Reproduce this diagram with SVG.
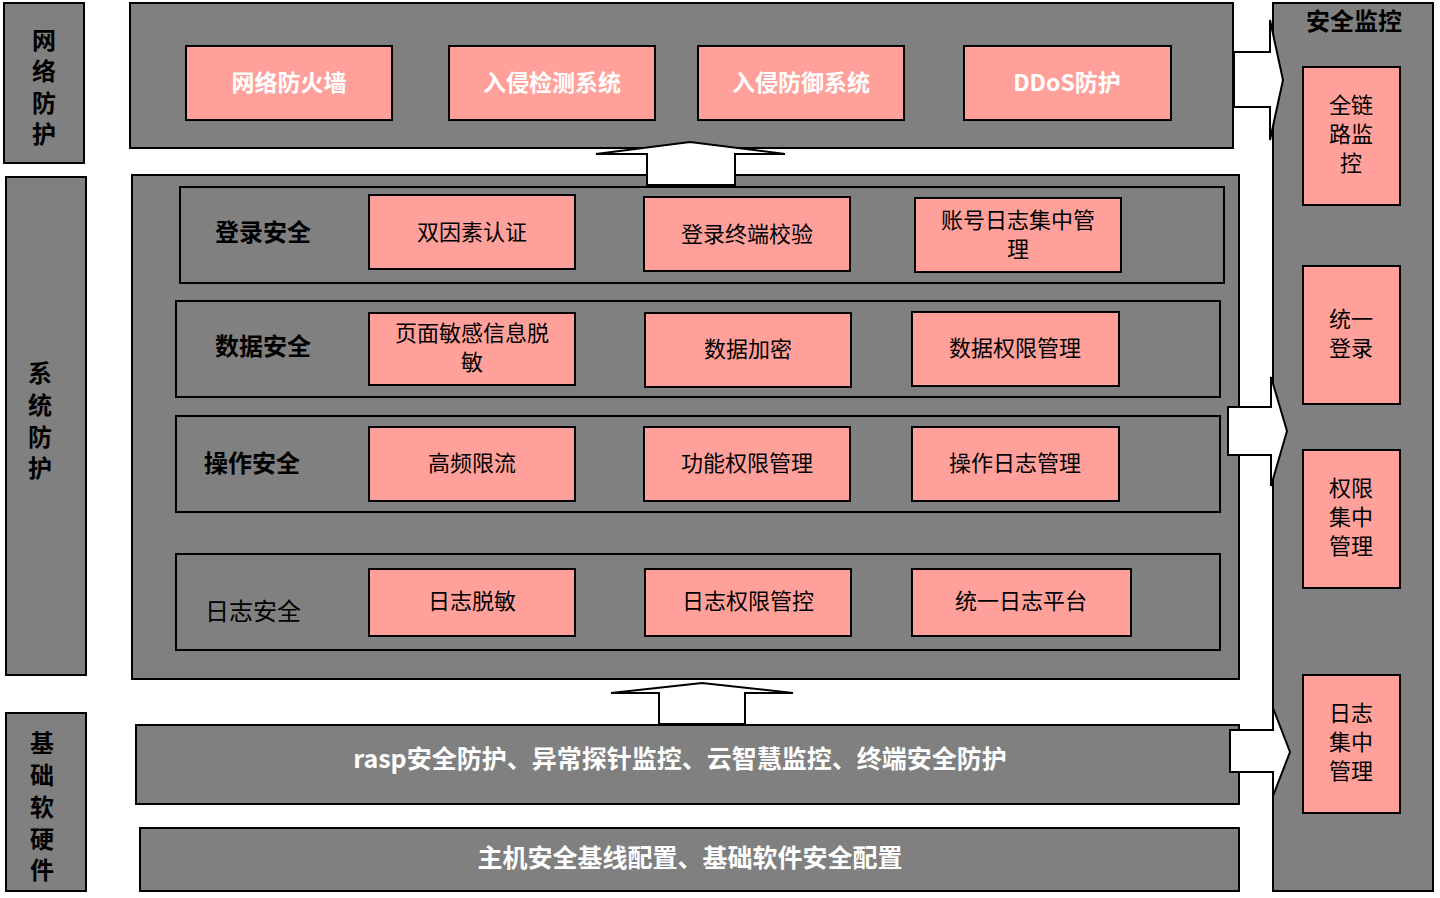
<svg xmlns="http://www.w3.org/2000/svg" width="1440" height="898" viewBox="0 0 1440 898">
<style>
.g{fill:#808080;stroke:#000;stroke-width:2}
.p{fill:#ffa19a;stroke:#000;stroke-width:2}
.a{fill:#fff;stroke:#000;stroke-width:2}
text{font-family:"Noto Sans CJK SC","Liberation Sans",sans-serif;text-anchor:middle;dominant-baseline:central}
.w{fill:#fff;font-weight:bold;font-size:23px}
.b{fill:#000;font-weight:bold;font-size:24px}
.n{fill:#000;font-size:22px}
.big{font-size:25px}
</style>
<rect width="1440" height="898" fill="#fff"/>
<g id="net-label"><rect class="g" x="4" y="3" width="80" height="160"/><text class="b" x="44" y="38">网</text><text class="b" x="44" y="69">络</text><text class="b" x="44" y="101">防</text><text class="b" x="44" y="132">护</text></g>
<g id="net"><rect class="g" x="130" y="3" width="1103" height="145"/>
<rect class="p" x="186" y="46" width="206" height="74"/><text class="w" x="289" y="81">网络防火墙</text>
<rect class="p" x="449" y="46" width="206" height="74"/><text class="w" x="552" y="81">入侵检测系统</text>
<rect class="p" x="698" y="46" width="206" height="74"/><text class="w" x="801" y="81">入侵防御系统</text>
<rect class="p" x="964" y="46" width="207" height="74"/><text class="w" x="1067" y="81">DDoS防护</text></g>
<g id="sys-label"><rect class="g" x="6" y="177" width="80" height="498"/><text class="b" x="40" y="371">系</text><text class="b" x="40" y="403">统</text><text class="b" x="40" y="435">防</text><text class="b" x="40" y="466">护</text></g>
<g id="sys"><rect class="g" x="132" y="175" width="1107" height="504"/>
<rect class="g" x="180" y="187" width="1044" height="96"/><text class="b" x="263" y="230">登录安全</text>
<rect class="p" x="369" y="195" width="206" height="74"/><text class="n" x="472" y="230">双因素认证</text>
<rect class="p" x="644" y="197" width="206" height="74"/><text class="n" x="747" y="232">登录终端校验</text>
<rect class="p" x="915" y="198" width="206" height="74"/><text class="n" x="1018" y="218">账号日志集中管</text><text class="n" x="1018" y="247">理</text>
<rect class="g" x="176" y="301" width="1044" height="96"/><text class="b" x="263" y="344">数据安全</text>
<rect class="p" x="369" y="313" width="206" height="72"/><text class="n" x="472" y="331">页面敏感信息脱</text><text class="n" x="472" y="360">敏</text>
<rect class="p" x="645" y="313" width="206" height="74"/><text class="n" x="748" y="347">数据加密</text>
<rect class="p" x="912" y="312" width="207" height="74"/><text class="n" x="1015" y="346">数据权限管理</text>
<rect class="g" x="176" y="416" width="1044" height="96"/><text class="b" x="252" y="461">操作安全</text>
<rect class="p" x="369" y="427" width="206" height="74"/><text class="n" x="472" y="461">高频限流</text>
<rect class="p" x="644" y="427" width="206" height="74"/><text class="n" x="747" y="461">功能权限管理</text>
<rect class="p" x="912" y="427" width="207" height="74"/><text class="n" x="1015" y="461">操作日志管理</text>
<rect class="g" x="176" y="554" width="1044" height="96"/><text class="b" x="253" y="609" style="font-weight:normal">日志安全</text>
<rect class="p" x="369" y="569" width="206" height="67"/><text class="n" x="472" y="599">日志脱敏</text>
<rect class="p" x="645" y="569" width="206" height="67"/><text class="n" x="748" y="599">日志权限管控</text>
<rect class="p" x="912" y="569" width="219" height="67"/><text class="n" x="1021" y="599">统一日志平台</text></g>
<g id="base-label"><rect class="g" x="6" y="713" width="80" height="178"/><text class="b" x="42" y="741">基</text><text class="b" x="42" y="773">础</text><text class="b" x="42" y="805">软</text><text class="b" x="42" y="837">硬</text><text class="b" x="42" y="868">件</text></g>
<g id="rasp"><rect class="g" x="136" y="725" width="1103" height="79"/><text class="w big" x="680" y="757">rasp安全防护、异常探针监控、云智慧监控、终端安全防护</text></g>
<g id="host"><rect class="g" x="140" y="828" width="1099" height="63"/><text class="w big" x="690" y="856">主机安全基线配置、基础软件安全配置</text></g>
<g id="monitor"><rect class="g" x="1273" y="3" width="160" height="888"/><text class="b" x="1354" y="19">安全监控</text>
<rect class="p" x="1303" y="67" width="97" height="138"/><text class="n" x="1351" y="103">全链</text><text class="n" x="1351" y="132">路监</text><text class="n" x="1351" y="161">控</text>
<rect class="p" x="1303" y="266" width="97" height="138"/><text class="n" x="1351" y="317">统一</text><text class="n" x="1351" y="346">登录</text>
<rect class="p" x="1303" y="450" width="97" height="138"/><text class="n" x="1351" y="486">权限</text><text class="n" x="1351" y="515">集中</text><text class="n" x="1351" y="544">管理</text>
<rect class="p" x="1303" y="675" width="97" height="138"/><text class="n" x="1351" y="711">日志</text><text class="n" x="1351" y="740">集中</text><text class="n" x="1351" y="769">管理</text></g>
<g id="connectors">
<polygon class="a" points="647,185 647,154 596,154 690,142 785,154 735,154 735,185"/>
<polygon class="a" points="659,724 659,693 611,693 702,683 793,693 745,693 745,724"/>
<polygon class="a" points="1234,52 1270,52 1270,20 1283,80 1270,140 1270,107 1234,107"/>
<polygon class="a" points="1228,407 1271,407 1271,377 1287,431 1271,486 1271,455 1228,455"/>
<polygon class="a" points="1230,730 1273,730 1273,708 1290,752 1273,796 1273,772 1230,772"/>
</g>
</svg>
